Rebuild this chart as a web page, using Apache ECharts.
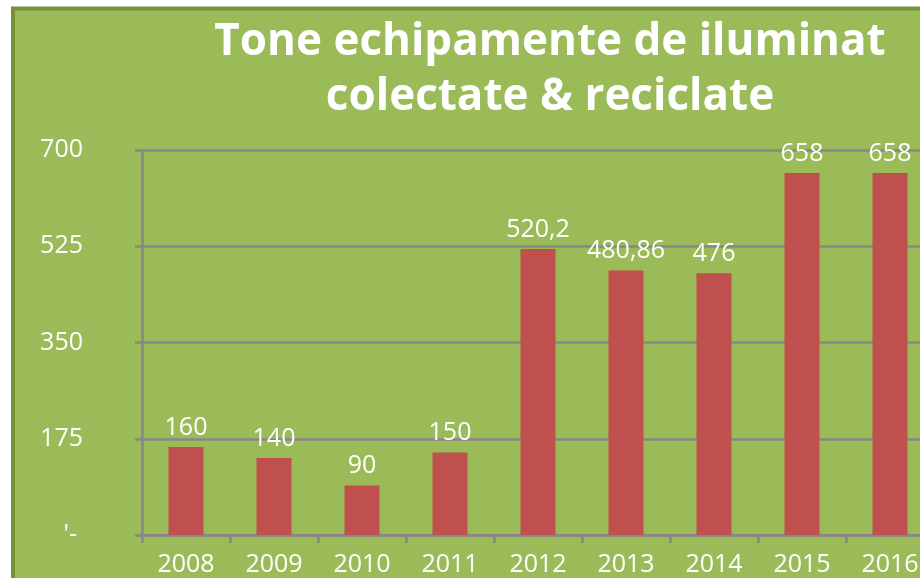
<!DOCTYPE html>
<html>
<head>
<meta charset="utf-8">
<script src="https://cdn.jsdelivr.net/npm/echarts@6/dist/echarts.min.js"></script>
<style>
  html, body { margin: 0; padding: 0; background: #fff; }
  #chart { width: 920px; height: 578px; }
</style>
</head>
<body>
<div id="chart"></div>
<script>
const years = ["2008", "2009", "2010", "2011", "2012", "2013", "2014", "2015", "2016"];
const tonnes = [160, 140, 90, 150, 520.2, 480.86, 476, 658, 658];
const yTicks = { min: 0, max: 700, step: 175 };

const chart = echarts.init(document.getElementById("chart"));

const option = {
  backgroundColor: "#ffffff",
  animation: false,
  graphic: [
    {
      type: "rect",
      z: -10,
      shape: { x: 13, y: 8.5, width: 1000, height: 1000 },
      style: { fill: "#9BBB59", stroke: "#76923C", lineWidth: 4 },
    },
  ],
  title: {
    text: "Tone echipamente de iluminat\ncolectate & reciclate",
    left: 545,
    top: 10,
    textAlign: "center",
    textStyle: {
      color: "#ffffff",
      fontFamily: "Open Sans",
      fontWeight: "bold",
      fontSize: 44,
      lineHeight: 55,
    },
  },
  grid: {
    left: 142,
    width: 792,
    top: 150,
    bottom: 43,
    containLabel: false,
    outerBoundsMode: "none",
  },
  xAxis: {
    type: "category",
    data: years,
    boundaryGap: true,
    axisLine: { show: true, lineStyle: { color: "#878787", width: 2.5 } },
    axisTick: { show: true, length: 8, lineStyle: { color: "#878787", width: 2.5 } },
    axisLabel: {
      color: "#ffffff",
      fontFamily: "Open Sans",
      fontSize: 25,
      margin: 17,
    },
  },
  yAxis: {
    type: "value",
    min: yTicks.min,
    max: yTicks.max,
    interval: yTicks.step,
    axisLine: { show: true, lineStyle: { color: "#878787", width: 2.5 } },
    axisTick: { show: true, length: 7, lineStyle: { color: "#878787", width: 2.5 } },
    splitLine: { show: true, lineStyle: { color: "#878787", width: 2.5 } },
    axisLabel: {
      color: "#ffffff",
      fontFamily: "Open Sans",
      fontSize: 25,
      margin: 59,
      align: "right",
      formatter: (v) => (v === 0 ? "{z|'-}" : String(v)),
      rich: {
        z: { color: "#ffffff", fontFamily: "Open Sans", fontSize: 25, padding: [0, 6, 0, 0] },
      },
    },
  },
  series: [
    {
      type: "bar",
      data: tonnes,
      barWidth: 35,
      itemStyle: { color: "#C0504D" },
      label: {
        show: true,
        position: "top",
        distance: 7,
        color: "#ffffff",
        fontFamily: "Open Sans",
        fontSize: 25,
        formatter: (p) => String(p.value).replace(".", ","),
      },
    },
  ],
};

chart.setOption(option);
</script>
</body>
</html>
